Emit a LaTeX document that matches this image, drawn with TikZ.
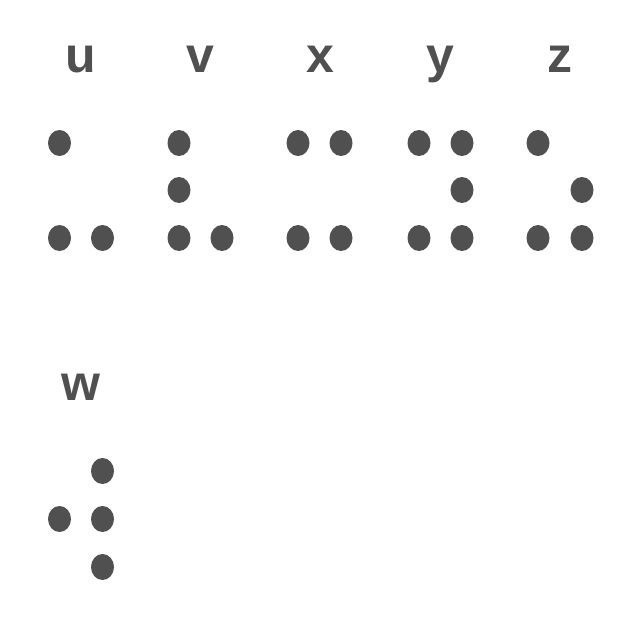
\documentclass[tikz,border=0pt]{standalone}
\usepackage{fontspec}
\setmainfont{Liberation Sans}
\usetikzlibrary{positioning,shapes.geometric}
\definecolor{dotgray}{HTML}{505050}
\tikzset{
    brailledot/.style={ellipse, fill=dotgray, inner sep=0pt,
        minimum width=23pt, minimum height=26pt},
    letterlabel/.style={anchor=base, text=dotgray,
        font=\fontsize{50}{50}\selectfont\bfseries}
}

\begin{document}
\begin{tikzpicture}[x=1pt, y=-1pt]
\useasboundingbox (0,0) rectangle (640,640);
% letters
\node[letterlabel] (lu) at (81,72) {u};
\node[letterlabel] (lv) at (200,72) {v};
\node[letterlabel] (lx) at (320,72) {x};
\node[letterlabel] (ly) at (440,72) {y};
\node[letterlabel] (lz) at (560,72) {z};
\node[letterlabel] (lw) at (81,400) {w};
% dots of the first row
\foreach \n/\x/\y in {u1/59.5/143, u3/59.5/238, u6/102.5/238,
    v1/179/143, v2/179/190, v3/179/238, v6/222/238,
    x1/298/143, x4/341/143, x3/298/238, x6/341/238,
    y1/419/143, y4/462/143, y5/462/190, y3/419/238, y6/462/238,
    z1/538/143, z5/582/190, z3/538/238, z6/582/238}
    \node[brailledot] (\n) at (\x,\y) {};
% dots of w
\foreach \n/\x/\y in {w4/102.5/471, w2/59.5/519, w5/102.5/519, w6/102.5/567}
    \node[brailledot] (\n) at (\x,\y) {};
\end{tikzpicture}
\end{document}
